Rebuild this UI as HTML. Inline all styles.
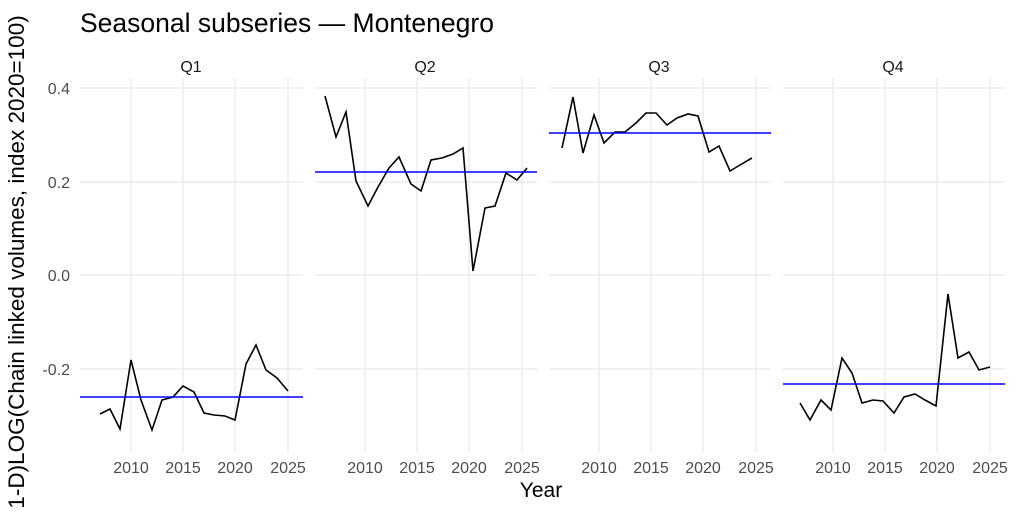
<!DOCTYPE html>
<html><head><meta charset="utf-8"><style>
body{margin:0;background:#fff;}
text{font-family:"Liberation Sans",sans-serif;}
</style></head><body>
<svg width="1024" height="512" viewBox="0 0 1024 512" xmlns="http://www.w3.org/2000/svg">
<rect width="1024" height="512" fill="#fff"/>
<text x="80" y="32" font-size="26.5" fill="#000">Seasonal subseries — Montenegro</text>
<text transform="translate(24,262) rotate(-90)" font-size="22.5" text-anchor="middle" fill="#000">1-D)LOG(Chain linked volumes, index 2020=100)</text>
<text x="541" y="497" font-size="21" text-anchor="middle" fill="#000">Year</text>
<g font-size="16" fill="#4d4d4d" text-anchor="end">
<text x="70" y="94">0.4</text><text x="70" y="188">0.2</text><text x="70" y="281">0.0</text><text x="70" y="375">-0.2</text>
</g>
<g stroke="#ebebeb" stroke-width="1.4">
<path d="M80 88H303M80 182H303M80 275H303M80 369H303M315 88H537M315 182H537M315 275H537M315 369H537M549 88H771M549 182H771M549 275H771M549 369H771M783 88H1005M783 182H1005M783 275H1005M783 369H1005"/>
<path d="M131 78V452M183 78V452M235 78V452M288 78V452M365 78V452M417 78V452M469 78V452M522 78V452M599 78V452M651 78V452M703 78V452M756 78V452M833 78V452M885 78V452M937 78V452M990 78V452"/>
</g>
<g font-size="16" fill="#4d4d4d" text-anchor="middle">
<text x="131" y="473">2010</text><text x="183" y="473">2015</text><text x="235" y="473">2020</text><text x="288" y="473">2025</text>
<text x="365" y="473">2010</text><text x="417" y="473">2015</text><text x="469" y="473">2020</text><text x="522" y="473">2025</text>
<text x="599" y="473">2010</text><text x="651" y="473">2015</text><text x="703" y="473">2020</text><text x="756" y="473">2025</text>
<text x="833" y="473">2010</text><text x="885" y="473">2015</text><text x="937" y="473">2020</text><text x="990" y="473">2025</text>
</g>
<g font-size="16" fill="#1a1a1a" text-anchor="middle">
<text x="191" y="72">Q1</text><text x="425" y="72">Q2</text><text x="659" y="72">Q3</text><text x="893" y="72">Q4</text>
</g>
<g stroke="#000" stroke-width="1.6" fill="none">
<polyline points="100,414 110,409 120,429 131,360 141,400 152,430 162,400 173,397 183,386 194,392 204,413 214,415 225,416 235,420 246,364 256,345 266,370 277,378 288,391"/>
<polyline points="325,96 336,137 346,112 356,181 368,206 378,187 389,168 399,157 411,184 421,191 431,160 442,158 453,154 463,148 473,271 485,208 495,206 506,173 517,180 527,168"/>
<polyline points="562,148 573,97 583,153 594,115 604,143 615,132 625,132 636,123 646,113 656,113 667,125 677,118 688,114 698,116 709,152 719,146 730,171 740,165 752,158"/>
<polyline points="800,403 810,420 821,400 831,410 842,358 852,373 862,403 873,400 883,401 894,413 904,397 915,394 925,400 936,406 948,294 958,358 969,352 979,370 990,367"/>
</g>
<g stroke="#0000ff" stroke-width="1.6">
<path d="M80 397H303M315 172H537M549 133H771M783 384H1005"/>
</g>
</svg>
</body></html>
